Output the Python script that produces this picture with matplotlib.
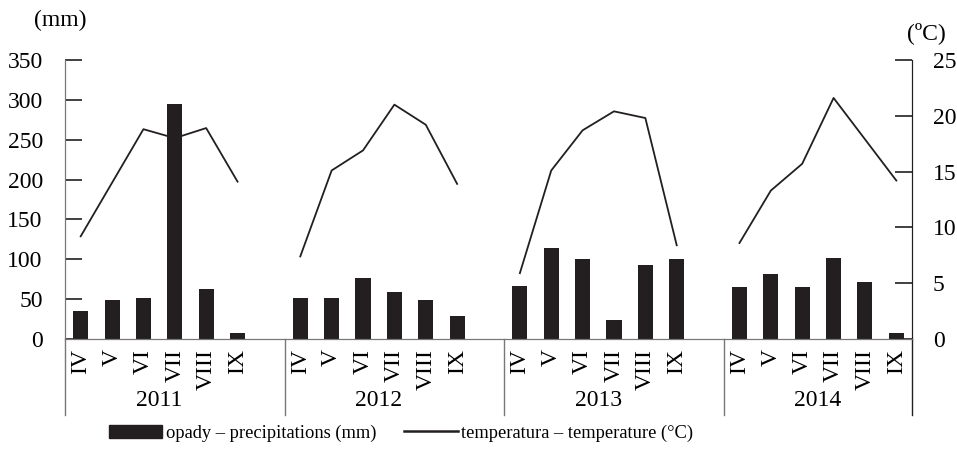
import numpy as np
import matplotlib.pyplot as plt
from matplotlib.lines import Line2D
from matplotlib.patches import Patch
import matplotlib.transforms as mtransforms

plt.rcParams['font.family'] = ['Liberation Serif', 'DejaVu Serif']

# dane
years = ['2011', '2012', '2013', '2014']
months = ['IV', 'V', 'VI', 'VII', 'VIII', 'IX']
opady_2011 = [35, 49, 51, 295, 63, 8]
opady_2012 = [52, 51, 77, 59, 49, 29]
opady_2013 = [67, 114, 100, 24, 93, 100]
opady_2014 = [65, 82, 65, 101, 72, 8]
temp_2011 = [9.2, 14.0, 18.8, 18.0, 18.9, 14.1]
temp_2012 = [7.4, 15.1, 16.9, 21.0, 19.2, 13.9]
temp_2013 = [5.9, 15.1, 18.7, 20.4, 19.8, 8.4]
temp_2014 = [8.6, 13.3, 15.7, 21.6, 17.9, 14.2]

opady = [opady_2011, opady_2012, opady_2013, opady_2014]
temp = [temp_2011, temp_2012, temp_2013, temp_2014]

# kategorie z pustym miejscem miedzy latami
labels, p_vals, t_vals = [], [], []
for i in range(len(years)):
    labels += months
    p_vals += opady[i]
    t_vals += temp[i]
    if i < len(years) - 1:
        labels.append('')
        p_vals.append(np.nan)
        t_vals.append(np.nan)
x = np.arange(len(labels))

fig = plt.figure(figsize=(9.57, 4.59), dpi=100)
ax = fig.add_axes([65 / 957, 120 / 459, 847 / 957, 279 / 459])
ax2 = ax.twinx()

dark = '#231f20'
gray = '#777777'
fs = 17

ax.bar(x, p_vals, width=0.48, color=dark, zorder=2)
ax2.plot(x, t_vals, color=dark, lw=1.3)

ax.set_xlim(-0.5, len(labels) - 0.5)
ax.set_ylim(0, 350)
ax2.set_ylim(0, 25)
ax.set_yticks(np.arange(0, 351, 50))
ax2.set_yticks(np.arange(0, 26, 5))

ax.set_xticks(x)
ax.set_xticklabels(labels, rotation=90, fontsize=fs, va='top')
ax.tick_params(axis='x', length=0, pad=7)
ax.tick_params(axis='y', direction='in', length=12, width=1.2, labelsize=fs, pad=16, color=dark)
ax2.tick_params(axis='y', direction='in', length=12, width=1.2, labelsize=fs, pad=15, color=dark)

for a in (ax, ax2):
    a.spines['top'].set_visible(False)
    a.spines['left'].set_color(gray)
    a.spines['right'].set_color(dark)
    a.spines['bottom'].set_color(gray)

# linie podzialu lat i podpisy lat
trans = mtransforms.blended_transform_factory(ax.transData, ax.transAxes)
edges = [-0.5, 6.5, 13.5, 20.5, len(labels) - 0.5]
for i, e in enumerate(edges):
    c = dark if i == len(edges) - 1 else gray
    ax.add_line(Line2D([e, e], [0, -0.272], transform=trans, color=c, lw=1.0, clip_on=False))
for i, y in enumerate(years):
    ax.text(i * 7 + 2.5, -0.222, y, transform=trans, ha='center', va='center', fontsize=fs)

fig.text(60 / 957, 1 - 20 / 459, '(mm)', ha='center', va='center', fontsize=fs)
fig.text(926 / 957, 1 - 33 / 459, '(ºC)', ha='center', va='center', fontsize=fs)

handles = [Patch(facecolor=dark, edgecolor=dark),
           Line2D([0], [0], color=dark, lw=1.8)]
fig.legend(handles, ['opady – precipitations (mm)', 'temperatura – temperature (°C)'],
           loc='center', bbox_to_anchor=(401 / 957, 1 - 433 / 459), ncol=2, frameon=False,
           fontsize=13.3, handlelength=2.9, handletextpad=0.2, columnspacing=1.5)

fig.savefig('out.png', dpi=100)
